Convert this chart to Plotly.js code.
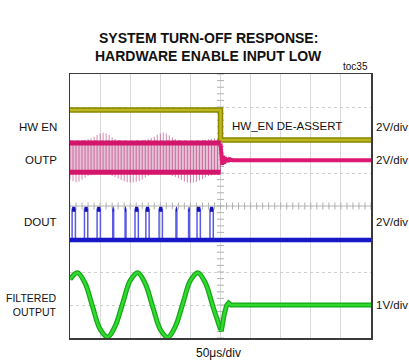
<!DOCTYPE html>
<html>
<head>
<meta charset="utf-8">
<script src="https://cdn.plot.ly/plotly-3.0.1.min.js"></script>
<style>html,body{margin:0;padding:0;background:#fff;}#chart{width:409px;height:360px;}</style>
</head>
<body>
<div id="chart"></div>
<script>
// ---- data (x in time divisions, 50us/div; y in screen divisions) ----
const hwenX = [0, 5.0, 5.0, 10];
const hwenY = [6.91, 6.91, 6.0, 6.0];

const outpX = [0,0.1,0.2,0.3,0.4,0.5,0.6,0.7,0.8,0.9,1.0,1.1,1.2,1.3,1.4,1.5,1.6,1.7,1.8,1.9,2.0,2.1,2.2,2.3,2.4,2.5,2.6,2.7,2.8,2.9,3.0,3.1,3.2,3.3,3.4,3.5,3.6,3.7,3.8,3.9,4.0,4.1,4.2,4.3,4.4,4.5,4.6,4.7,4.8,4.9,5.0];
const outpTop = [6.0,5.99,5.98,5.99,6.0,6.01,6.03,6.05,6.1,6.15,6.2,6.22,6.2,6.15,6.08,6.03,6.0,5.98,5.98,5.97,5.97,5.97,5.98,5.98,6.0,6.01,6.03,6.06,6.1,6.16,6.2,6.23,6.2,6.14,6.08,6.03,6.0,5.98,5.98,5.97,5.97,5.97,5.98,5.98,6.0,6.0,6.02,6.03,6.05,6.04,6.0];
const outpBottom = [4.8,4.75,4.72,4.74,4.8,4.86,4.91,4.93,4.95,4.96,4.96,4.96,4.95,4.94,4.91,4.88,4.84,4.79,4.75,4.72,4.71,4.71,4.73,4.76,4.8,4.86,4.91,4.94,4.95,4.96,4.96,4.96,4.95,4.94,4.91,4.88,4.84,4.79,4.74,4.71,4.7,4.71,4.73,4.77,4.82,4.87,4.91,4.93,4.95,4.96,4.98];
const outpHighBand = 5.91;
const outpLowBand = 5.02;
const outpAfterX = [5.0,5.03,5.06,5.09,5.12,5.15,5.18,5.21,5.25,5.3,5.4,10];
const outpAfterY = [5.9,5.55,5.25,5.52,5.28,5.48,5.32,5.45,5.35,5.42,5.39,5.39];

const doutLow = 2.97;
const doutHigh = 3.9;
const doutPulseStart = [0.07,0.48,0.9,1.42,1.83,2.16,2.52,2.96,3.52,3.94,4.22,4.65];
const doutPulseWidth = [0.11,0.11,0.11,0.03,0.03,0.11,0.11,0.11,0.03,0.03,0.11,0.11];
const doutEndX = 10;

const filtX = [0,0.25,0.5,0.75,1.0,1.25,1.5,1.75,2.0,2.25,2.5,2.75,3.0,3.25,3.5,3.75,4.0,4.25,4.5,4.75,5.0];
const filtY = [1.78,1.98,1.66,0.95,0.27,0.03,0.36,1.05,1.74,1.98,1.65,0.94,0.26,0.02,0.35,1.05,1.74,1.98,1.66,0.95,0.26];
const filtAfterX = [5.0,5.03,5.12,5.2,5.27,5.35,10];
const filtAfterY = [0.26,0.22,0.7,0.98,1.06,1.0,1.0];

// ---- build traces ----
const traces = [];

// graticule tick marks on centre lines
const tickYs = [], tickXs = [];
for (let k = 0; k <= 40; k++) tickYs.push(k * 0.2);
for (let k = 0; k <= 50; k++) tickXs.push(k * 0.2);
traces.push({x: tickYs.map(() => 5), y: tickYs, mode: 'markers', hoverinfo: 'skip',
  marker: {symbol: 'line-ew', size: 5, line: {color: '#b0b0b0', width: 1}}});
traces.push({x: tickXs, y: tickXs.map(() => 4), mode: 'markers', hoverinfo: 'skip',
  marker: {symbol: 'line-ns', size: 5, line: {color: '#b0b0b0', width: 1}}});

// HW EN
traces.push({x: hwenX, y: hwenY, mode: 'lines', line: {color: '#8a8600', width: 5.5}, hoverinfo: 'skip'});
traces.push({x: hwenX, y: hwenY, mode: 'lines', line: {color: '#bdb820', width: 2.5}, hoverinfo: 'skip'});

// OUTP pale region between bands
const x0 = outpX[0], x1 = outpX[outpX.length - 1];
traces.push({x: [x0, x1, x1, x0, x0], y: [outpHighBand, outpHighBand, outpLowBand, outpLowBand, outpHighBand],
  mode: 'lines', fill: 'toself', fillcolor: 'rgba(218,165,195,0.7)', line: {width: 0}, hoverinfo: 'skip'});
// OUTP switching lines
const vx = [], vy = [];
outpX.forEach((x, i) => { vx.push(x, x, null); vy.push(outpBottom[i], outpTop[i], null); });
traces.push({x: vx, y: vy, mode: 'lines', line: {color: 'rgba(190,50,125,0.6)', width: 1}, hoverinfo: 'skip'});
// OUTP bands
traces.push({x: [x0, x1], y: [outpHighBand, outpHighBand], mode: 'lines', line: {color: '#d4156c', width: 5}, hoverinfo: 'skip'});
traces.push({x: [x0, x1], y: [outpLowBand, outpLowBand], mode: 'lines', line: {color: '#d4156c', width: 5}, hoverinfo: 'skip'});
traces.push({x: outpAfterX, y: outpAfterY, mode: 'lines', line: {color: '#dc1870', width: 4}, hoverinfo: 'skip'});

// DOUT
const dx = [0], dy = [doutLow];
const topX = [], topY = [];
doutPulseStart.forEach((s, i) => {
  const e = s + doutPulseWidth[i];
  dx.push(s, s, e, e); dy.push(doutLow, doutHigh, doutHigh, doutLow);
  topX.push(s, e, null); topY.push(doutHigh, doutHigh, null);
});
dx.push(doutEndX); dy.push(doutLow);
traces.push({x: dx, y: dy, mode: 'lines', line: {color: '#5a5ae8', width: 1.5}, hoverinfo: 'skip'});
traces.push({x: [0, doutEndX], y: [doutLow, doutLow], mode: 'lines', line: {color: '#1717c8', width: 4.5}, hoverinfo: 'skip'});
traces.push({x: topX, y: topY, mode: 'lines', line: {color: '#1414b4', width: 5}, hoverinfo: 'skip'});

// FILTERED OUTPUT
traces.push({x: filtX, y: filtY, mode: 'lines', line: {color: '#16a816', width: 5, shape: 'spline', smoothing: 1}, hoverinfo: 'skip'});
traces.push({x: filtX, y: filtY, mode: 'lines', line: {color: '#30d830', width: 2.5, shape: 'spline', smoothing: 1}, hoverinfo: 'skip'});
traces.push({x: filtAfterX, y: filtAfterY, mode: 'lines', line: {color: '#16a816', width: 5}, hoverinfo: 'skip'});
traces.push({x: filtAfterX, y: filtAfterY, mode: 'lines', line: {color: '#30d830', width: 2.5}, hoverinfo: 'skip'});

// ---- layout ----
const W = 409, H = 360, L = 70, R = 38, T = 74, B = 22;
const pw = W - L - R, ph = H - T - B;
const px = v => (v - L) / pw;
const py = v => (H - B - v) / ph;
const F = 'Liberation Sans, Arial, sans-serif';

const ann = (text, x, y, xa, size, extra) => Object.assign({
  text: text, xref: 'paper', yref: 'paper', x: px(x), y: py(y), xanchor: xa, yanchor: 'middle',
  showarrow: false, font: {family: F, size: size, color: '#111'}}, extra || {});

const layout = {
  width: W, height: H,
  margin: {l: L, r: R, t: T, b: B, pad: 0},
  paper_bgcolor: '#fff', plot_bgcolor: '#fff',
  showlegend: false,
  xaxis: {range: [0, 10], dtick: 1, tick0: 0, showticklabels: false, ticks: '',
    showgrid: true, gridcolor: '#dadada', gridwidth: 1, zeroline: false,
    showline: true, mirror: true, linecolor: '#3a3a3a', linewidth: 1.5, fixedrange: true},
  yaxis: {range: [0, 8], dtick: 1, tick0: 0, showticklabels: false, ticks: '',
    showgrid: true, gridcolor: '#cfcfcf', gridwidth: 1, griddash: 'dot', zeroline: false,
    showline: true, mirror: true, linecolor: '#3a3a3a', linewidth: 1.5, fixedrange: true},
  shapes: [
    {type: 'line', xref: 'x', yref: 'paper', x0: 5, x1: 5, y0: 0, y1: 1, line: {color: '#b8b8b8', width: 1}, layer: 'below'},
    {type: 'line', xref: 'paper', yref: 'y', x0: 0, x1: 1, y0: 4, y1: 4, line: {color: '#b8b8b8', width: 1}, layer: 'below'}
  ],
  annotations: [
    ann('<b>SYSTEM TURN-OFF RESPONSE:</b>', 208, 37.5, 'center', 14),
    ann('<b>HARDWARE ENABLE INPUT LOW</b>', 208, 56.5, 'center', 14),
    ann('toc35', 370, 67, 'right', 10),
    ann('HW EN', 59, 127, 'right', 11.5),
    ann('OUTP', 59, 160, 'right', 11.5),
    ann('DOUT', 59, 222, 'right', 11.5),
    ann('FILTERED<br>OUTPUT', 59, 305, 'right', 10.5, {align: 'right'}),
    ann('2V/div', 374, 127, 'left', 11.5),
    ann('2V/div', 374, 160, 'left', 11.5),
    ann('2V/div', 374, 222, 'left', 11.5),
    ann('1V/div', 374, 305, 'left', 11.5),
    ann('HW_EN DE-ASSERT', 230, 126, 'left', 11.5),
    ann('50μs/div', 218, 353, 'center', 12)
  ]
};

Plotly.newPlot('chart', traces, layout, {staticPlot: true, displayModeBar: false});
</script>
</body>
</html>
